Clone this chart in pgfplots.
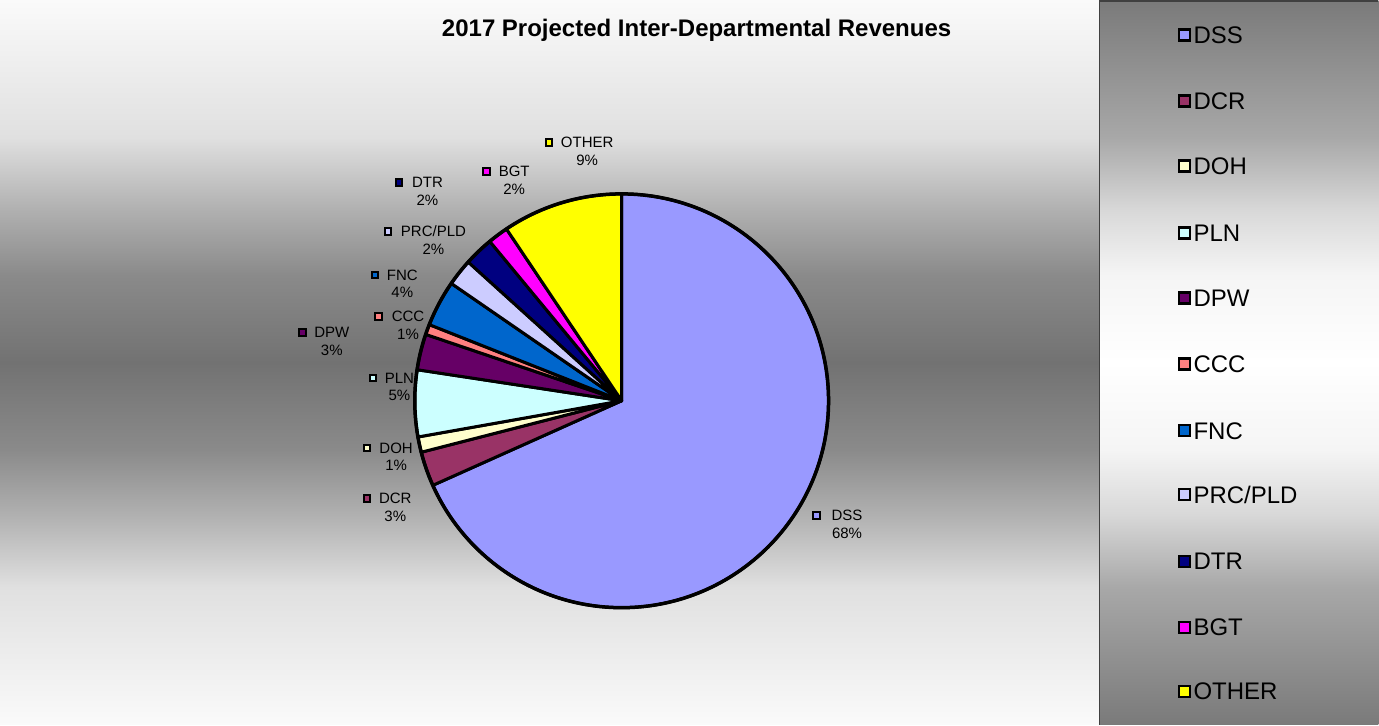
\documentclass[border=0pt]{standalone}
\usepackage{pgfplots}
\pgfplotsset{compat=1.18}
\usepackage{pgfplotstable}
\usepackage{fontspec}
\setmainfont{Liberation Sans}

% slices, clockwise from 12 o'clock; label positions in pixels (y down)
\pgfplotstableread[col sep=comma]{
idx,name,share,pct,lx,ly,mx
0,DSS,68.3,68,847.5,516,817
1,DCR,2.7,3,395.5,499,367.3
2,DOH,1.2,1,396.3,448.3,367.3
3,PLN,5.2,5,399.7,378.3,373.3
4,DPW,2.8,3,332,332.7,302.7
5,CCC,0.8,1,408.3,316.7,379
6,FNC,3.6,4,402.5,275,375
7,PRC/PLD,2.1,2,433.7,231.7,388.3
8,DTR,2.3,2,427.7,182.7,399.3
9,BGT,1.6,2,514.5,171.7,486.7
10,OTHER,9.4,9,587.5,142.7,549.3
}\pie
\pgfplotstablecreatecol[create col/expr accum={\pgfmathaccuma+\thisrow{share}}{0}]{cum}{\pie}

\pgfplotstableread{
idx ly
0 35
1 101
2 166
3 233
4 298
5 364
6 431
7 495
8 562
9 628
10 692
}\legendpos

\definecolor{c0}{RGB}{153,153,255}
\definecolor{c1}{RGB}{153,51,102}
\definecolor{c2}{RGB}{255,255,204}
\definecolor{c3}{RGB}{204,255,255}
\definecolor{c4}{RGB}{102,0,102}
\definecolor{c5}{RGB}{255,128,128}
\definecolor{c6}{RGB}{0,102,204}
\definecolor{c7}{RGB}{204,204,255}
\definecolor{c8}{RGB}{0,0,128}
\definecolor{c9}{RGB}{255,0,255}
\definecolor{c10}{RGB}{255,255,0}
\definecolor{lgborder}{RGB}{64,64,64}
\definecolor{g114}{RGB}{114,114,114}
\definecolor{g122}{RGB}{122,122,122}
\definecolor{g138}{RGB}{138,138,138}
\definecolor{g168}{RGB}{168,168,168}
\definecolor{g176}{RGB}{176,176,176}
\definecolor{g216}{RGB}{216,216,216}
\definecolor{g224}{RGB}{224,224,224}
\definecolor{g245}{RGB}{245,245,245}
\definecolor{g250}{RGB}{250,250,250}

% path box maps to 25bp (bottom) .. 75bp (top)
\pgfdeclareverticalshading{plotbg}{100bp}{
    color(0bp)=(g250); color(25bp)=(g250);
    color(34.5bp)=(g224); color(39.5bp)=(g176);
    color(44bp)=(g138); color(50bp)=(g114);
    color(56bp)=(g138); color(60.5bp)=(g176);
    color(65.5bp)=(g224); color(75bp)=(g250);
    color(100bp)=(g250)}
\pgfdeclareverticalshading{legendbg}{100bp}{
    color(0bp)=(g122); color(25bp)=(g122);
    color(34.5bp)=(g168); color(39.5bp)=(g216);
    color(44bp)=(g245); color(50bp)=(white);
    color(56bp)=(g245); color(60.5bp)=(g216);
    color(65.5bp)=(g168); color(75bp)=(g122);
    color(100bp)=(g122)}

\pgfplotsset{
    keymarks/.style={
        scatter, only marks, mark=square*,
        visualization depends on={\thisrow{idx}\as\ci},
        scatter/@pre marker code/.code={%
            \pgfmathtruncatemacro\cj{\ci}%
            \scope[draw=black, fill=c\cj]},
        scatter/@post marker code/.code={\endscope},
    }
}

\begin{document}
\begin{tikzpicture}
\begin{axis}[
    x=1pt, y=1pt,
    xmin=0, xmax=1379,
    ymin=0, ymax=725,
    y dir=reverse,
    hide axis,
    clip=false,
]
% backgrounds
\pgfplotsextra{
    \shade[shading=plotbg] (axis cs:0,0) rectangle (axis cs:1100,725);
    \shade[shading=legendbg] (axis cs:1100,0) rectangle (axis cs:1379,725);
    \draw[lgborder, line width=1.5pt] (axis cs:1100,725) -- (axis cs:1100,1) -- (axis cs:1379,1);
    \node[font=\bfseries\fontsize{24}{28}\selectfont, inner sep=0pt]
        at (axis cs:697,30) {2017 Projected Inter-Departmental Revenues};
    % wedges
    \foreach \i in {0,...,10}{
        \pgfplotstablegetelem{\i}{share}\of\pie \let\sh\pgfplotsretval
        \pgfplotstablegetelem{\i}{cum}\of\pie \let\cm\pgfplotsretval
        \pgfmathsetmacro\aS{90-3.6*(\cm-\sh)}
        \pgfmathsetmacro\aE{90-3.6*\cm}
        \filldraw[fill=c\i, draw=black, line width=3pt, line join=round]
            (axis cs:622,401) -- ++(\aS:207pt)
            arc[start angle=\aS, end angle=\aE, radius=207pt] -- cycle;
    }
    \draw[line width=3.5pt] (axis cs:622,401) circle[radius=207pt];
    % data label texts
    \foreach \i in {0,...,10}{
        \pgfplotstablegetelem{\i}{name}\of\pie \let\nm\pgfplotsretval
        \pgfplotstablegetelem{\i}{pct}\of\pie \let\pc\pgfplotsretval
        \pgfplotstablegetelem{\i}{lx}\of\pie \let\lx\pgfplotsretval
        \pgfplotstablegetelem{\i}{ly}\of\pie \let\ly\pgfplotsretval
        \node[font=\fontsize{15}{18}\selectfont, inner sep=0pt]
            at (axis cs:\lx,\ly) {\nm};
        \pgfmathsetmacro\lyb{\ly+17.7}
        \node[font=\fontsize{15}{18}\selectfont, inner sep=0pt]
            at (axis cs:\lx,\lyb) {\pc\%};
    }
    % legend texts
    \foreach \i in {0,...,10}{
        \pgfplotstablegetelem{\i}{name}\of\pie \let\nm\pgfplotsretval
        \pgfplotstablegetelem{\i}{ly}\of\legendpos \let\ly\pgfplotsretval
        \node[font=\fontsize{24}{28}\selectfont, inner sep=0pt, anchor=west]
            at (axis cs:1194,\ly) {\nm};
    }
}
% data label keys
\addplot[keymarks, mark size=3.3pt, mark options={line width=2pt}]
    table[x=mx, y=ly] {\pie};
% legend keys
\addplot[keymarks, mark size=5.5pt, mark options={line width=2.4pt}]
    table[x expr=1185, y=ly] {\legendpos};
\end{axis}
\end{tikzpicture}
\end{document}
